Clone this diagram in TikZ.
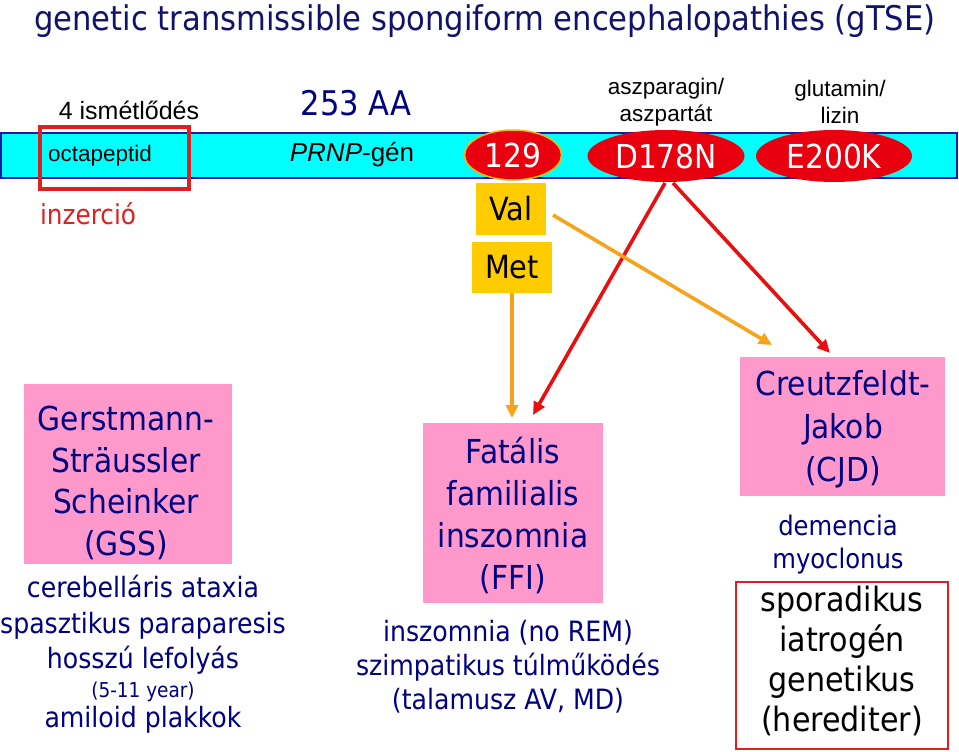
\documentclass[tikz,border=0pt]{standalone}
\usepackage{fontspec}
\setmainfont{DejaVu Sans Condensed}
\newfontfamily\arialf{Liberation Sans}
\usetikzlibrary{shapes.geometric,arrows.meta}
\definecolor{navy}{HTML}{000080}
\definecolor{titlenavy}{HTML}{12126A}
\definecolor{barcyan}{HTML}{00FFFF}
\definecolor{barblue}{HTML}{1A1AA0}
\definecolor{ellred}{HTML}{E8000F}
\definecolor{ring}{HTML}{F5B800}
\definecolor{goldbox}{HTML}{FFCC00}
\definecolor{pinkbox}{HTML}{FF99CC}
\definecolor{orangearr}{HTML}{F7A21B}
\definecolor{redarr}{HTML}{E8100F}
\definecolor{rectred}{HTML}{E02020}
\tikzset{
  fs/.style 2 args={font=\fontsize{#1}{#2}\selectfont},
  txt/.style={inner sep=0, align=center},
  mut/.style={ellipse, fill=ellred, inner sep=0, text=white, fs={33}{40}},
  aabox/.style={fill=goldbox, inner sep=0, fs={32}{38}},
  dbox/.style={fill=pinkbox, inner sep=0},
  oarrow/.style={draw=orangearr, line width=3.6, -{Triangle[length=13,width=12]}},
  rarrow/.style={draw=redarr, line width=3.6, -{Triangle[length=13,width=12]}},
}
\begin{document}
\begin{tikzpicture}[x=1pt,y=-1pt]
\useasboundingbox (0,0) rectangle (959,752);
% title
\node[txt, text=titlenavy, fs={34}{40}] (title) at (485,21) {genetic transmissible spongiform encephalopathies (gTSE)};
% bar
\node[draw=barblue, fill=barcyan, line width=1.5, minimum width=956, minimum height=45, inner sep=0] (bar) at (479,155.5) {};
\node[draw=rectred, line width=3.2, minimum width=149, minimum height=62, inner sep=0] (octbox) at (114.5,158) {};
\node[txt, font=\arialf\fontsize{22.5}{26}\selectfont] (octa) at (100,156) {octapeptid};
\node[txt, font=\arialf\fontsize{25}{28}\selectfont] (rep) at (129,110) {4 ismétlődés};
\node[txt, text=rectred, fs={27.5}{32}] (ins) at (88,214) {inzerció};
\node[txt, text=navy, fs={34}{40}] (aa) at (356,103) {253 AA};
\node[txt, font=\arialf\fontsize{26}{30}\selectfont] (prnp) at (352,155) {\textit{PRNP}-gén};
% mutations
\node[mut, draw=ring, line width=1.5, minimum width=97, minimum height=50] (p129) at (513,155) {129};
\node[mut, minimum width=157, minimum height=52] (d178) at (666,156) {D178N};
\node[mut, minimum width=156, minimum height=52] (e200) at (834,156) {E200K};
\node[txt, font=\arialf\fontsize{22.5}{27}\selectfont] (asp) at (666,102) {aszparagin/\\aszpartát};
\node[txt, font=\arialf\fontsize{22.5}{27}\selectfont] (glu) at (840,102) {glutamin/\\lizin};
\node[aabox, minimum width=70, minimum height=52] (val) at (511,209) {Val};
\node[aabox, minimum width=80, minimum height=51] (met) at (512,267.5) {Met};
% disease boxes
\node[dbox, minimum width=208, minimum height=180] (gss) at (128,474) {};
\node[txt, text=navy, fs={33}{41.5}] (gsst) at (126,483) {Gerstmann-\\Sträussler\\Scheinker\\(GSS)};
\node[txt, text=navy, fs={28}{35.5}] (gssd) at (143,625) {cerebelláris ataxia\\spasztikus paraparesis\\hosszú lefolyás};
\node[txt, text=navy, fs={20.5}{24}] (gssy) at (143,692) {(5-11 year)};
\node[txt, text=navy, fs={28}{34}] (gssa) at (143,720) {amiloid plakkok};
\node[dbox, minimum width=180, minimum height=180] (ffi) at (513,513) {};
\node[txt, text=navy, fs={33}{42}] (ffit) at (513,515) {Fatális\\familialis\\inszomnia\\(FFI)};
\node[txt, text=navy, fs={28}{34}] (ffid) at (508,667) {inszomnia (no REM)\\szimpatikus túlműködés\\(talamusz AV, MD)};
\node[dbox, minimum width=205, minimum height=139] (cjd) at (842.5,426.5) {};
\node[txt, text=navy, fs={33}{43}] (cjdt) at (843,429) {Creutzfeldt-\\Jakob\\(CJD)};
\node[txt, text=navy, fs={27}{33}] (cjdd) at (838,545) {demencia\\myoclonus};
\node[draw=rectred, line width=2, minimum width=212, minimum height=167, inner sep=0] (typebox) at (842,665.5) {};
\node[txt, fs={33.5}{40}] (types) at (842,661) {sporadikus\\iatrogén\\genetikus\\(herediter)};
% connectors
\coordinate (ffiTipO) at (512,418);
\coordinate (ffiTipR) at (533,415);
\coordinate (cjdTipR) at (830,353);
\coordinate (cjdTipO) at (772,345);
\coordinate (valOut) at (553,215);
\coordinate (dOutL) at (665,183);
\coordinate (dOutR) at (673,183);
\draw[rarrow] (dOutL) -- (ffiTipR);
\draw[rarrow] (dOutR) -- (cjdTipR);
\draw[oarrow] (met.south) -- (ffiTipO);
\draw[oarrow] (valOut) -- (cjdTipO);
\end{tikzpicture}
\end{document}
